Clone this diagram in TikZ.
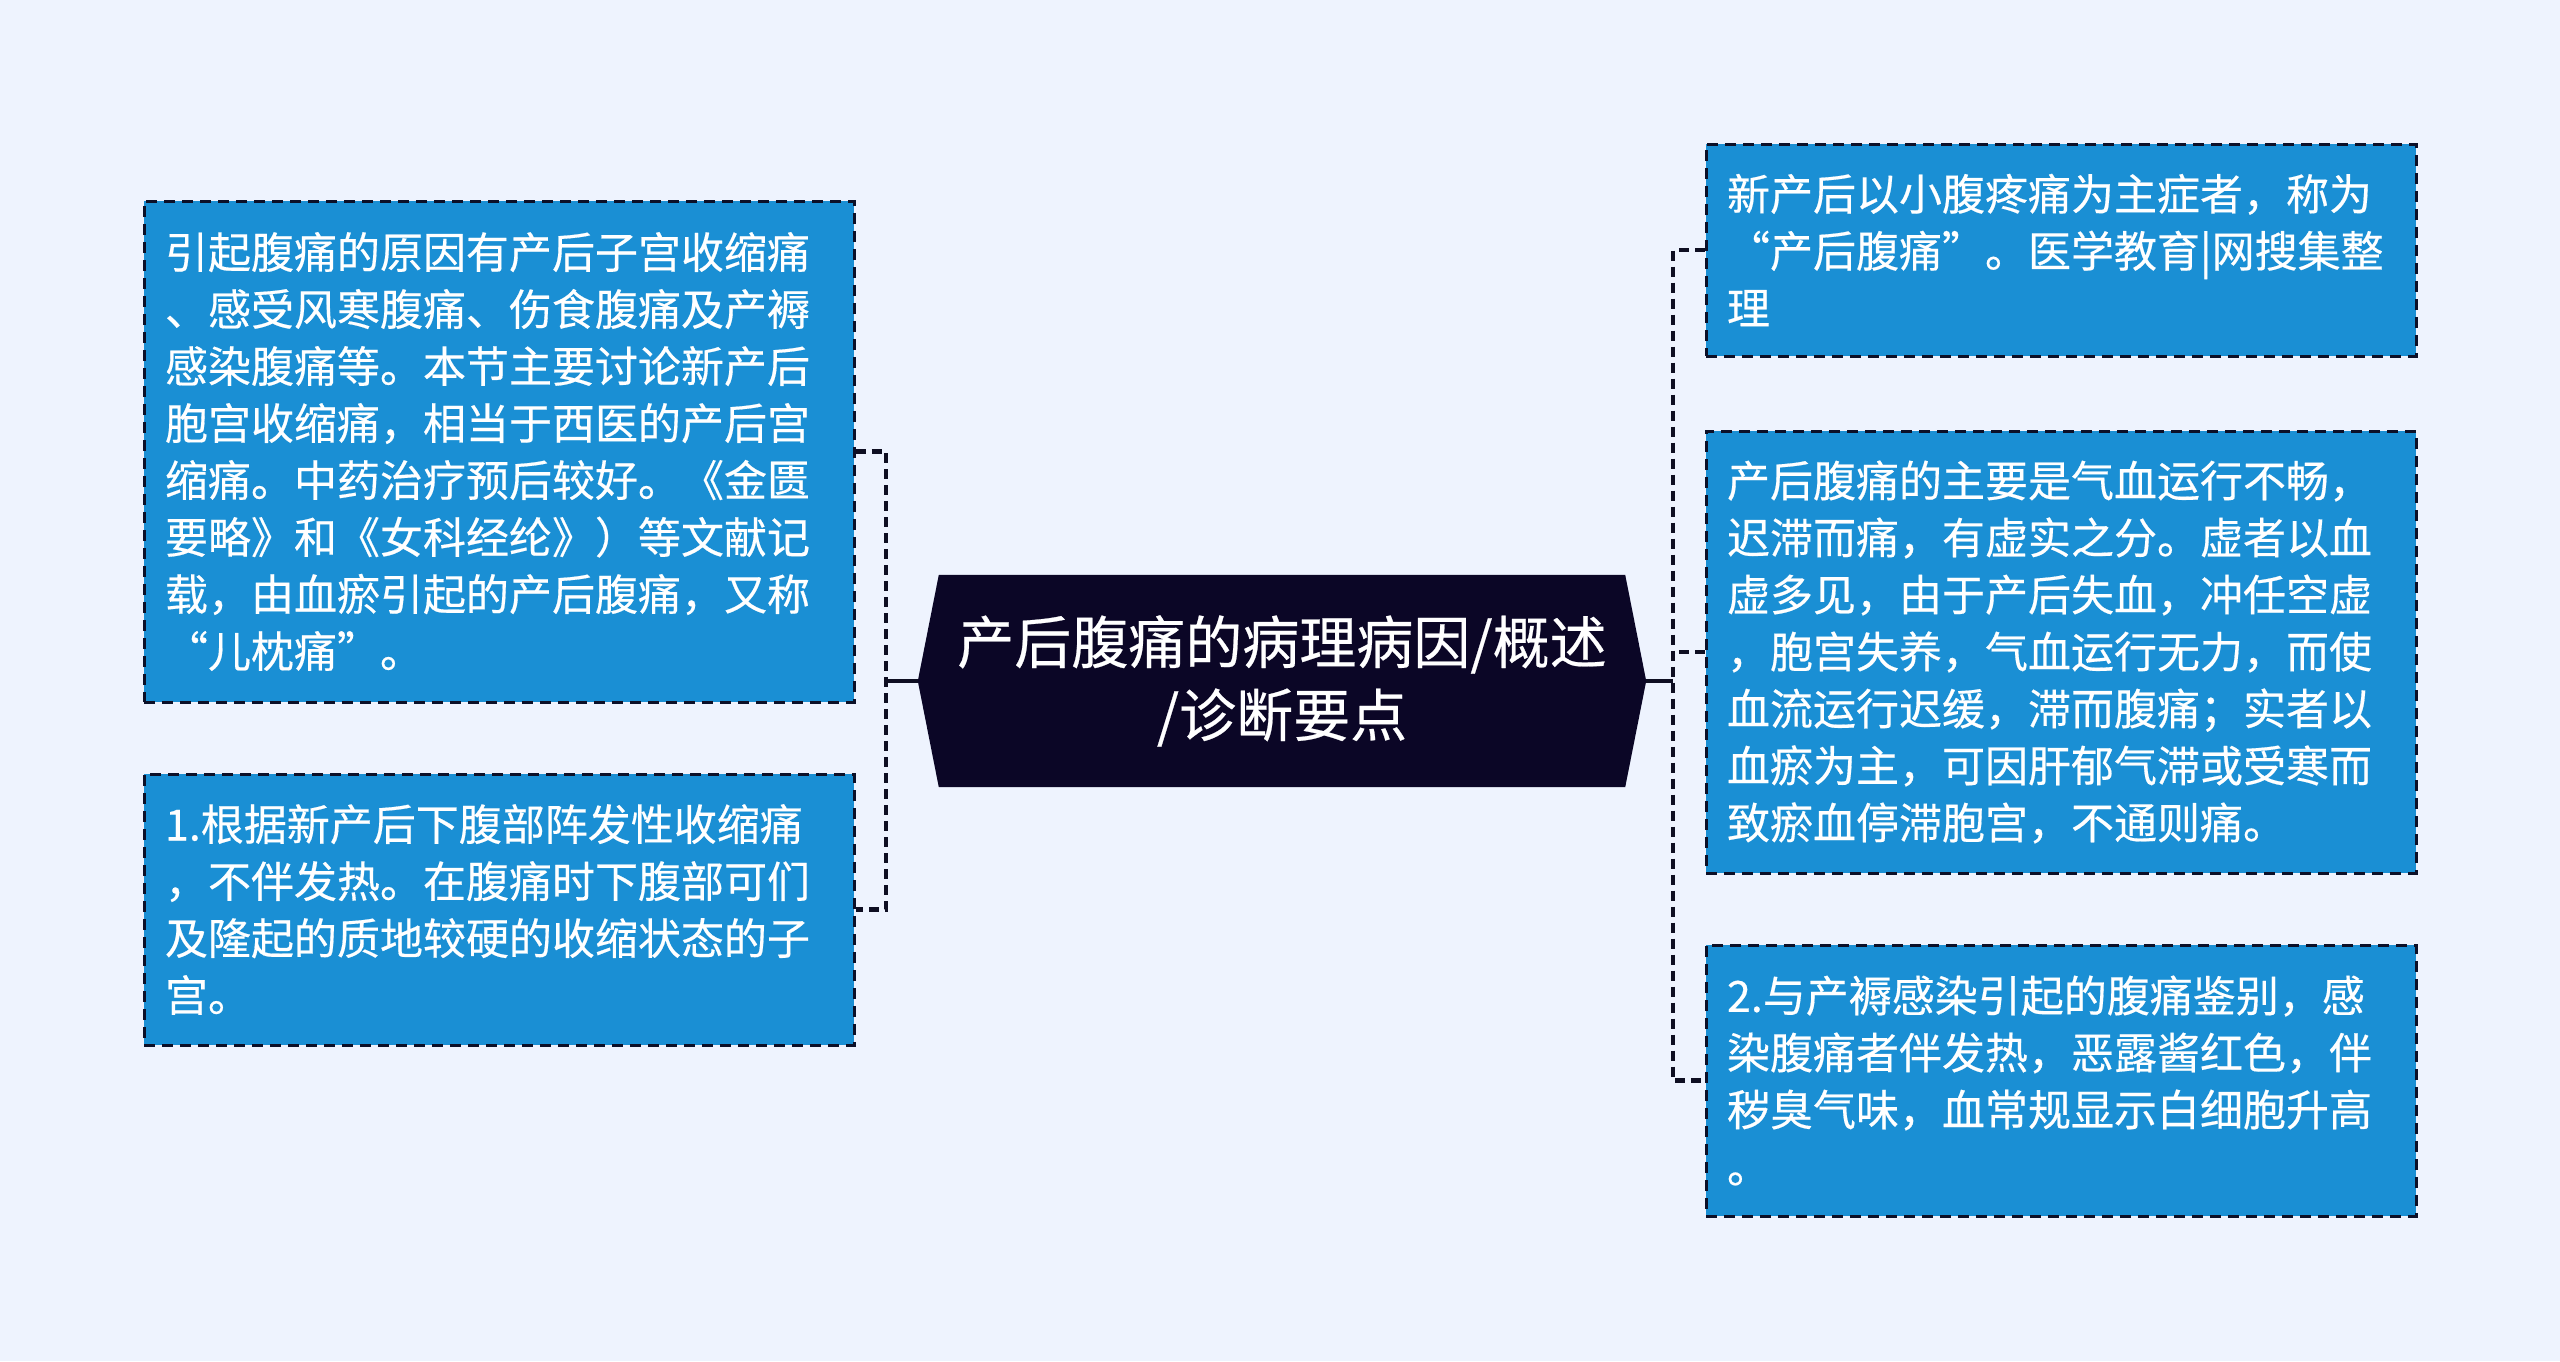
\documentclass[tikz,border=0pt]{standalone}
\usepackage{fontspec}
\newfontfamily\cjk[FakeBold=0.4]{Noto Sans CJK SC}
\usetikzlibrary{backgrounds}
\definecolor{bgcol}{RGB}{238,243,254}
\definecolor{boxfill}{RGB}{26,143,212}
\definecolor{bordercol}{RGB}{12,16,40}
\definecolor{hexfill}{RGB}{11,6,38}
\definecolor{linecol}{RGB}{14,14,34}
\begin{document}
\begin{tikzpicture}[x=1pt,y=-1pt,
  leafbox/.style={draw=bordercol, line width=3pt, dash pattern=on 11pt off 7pt,
    fill=boxfill, text=white, font=\cjk\fontsize{43}{57}\selectfont,
    align=left, text width=668pt, inner xsep=21pt, inner ysep=0pt,
    minimum width=710pt, anchor=center},
  hexnode/.style={text=white, align=center, font=\cjk\fontsize{57}{73}\selectfont,
    minimum width=686pt, minimum height=212pt, inner sep=0pt, anchor=center},
  conn/.style={draw=linecol, line width=4.5pt, dash pattern=on 10pt off 6pt},
  rootconn/.style={draw=linecol, line width=4pt}]
\useasboundingbox (0,0) rectangle (2560,1361);

\node[leafbox, minimum height=501pt] (L1) at (499,451.5) {引起腹痛的原因有产后子宫收缩痛\\、感受风寒腹痛、伤食腹痛及产褥\\感染腹痛等。本节主要讨论新产后\\胞宫收缩痛，相当于西医的产后宫\\缩痛。中药治疗预后较好。《金匮\\要略》和《女科经纶》）等文献记\\载，由血瘀引起的产后腹痛，又称\\“儿枕痛”。};
\node[leafbox, minimum height=271pt] (L2) at (499,909.5) {1.根据新产后下腹部阵发性收缩痛\\，不伴发热。在腹痛时下腹部可们\\及隆起的质地较硬的收缩状态的子\\宫。};

\node[leafbox, minimum height=212pt] (R1) at (2061,250) {新产后以小腹疼痛为主症者，称为\\“产后腹痛”。医学教育|网搜集整\\理};
\node[leafbox, minimum height=442pt] (R2) at (2061,652) {产后腹痛的主要是气血运行不畅，\\迟滞而痛，有虚实之分。虚者以血\\虚多见，由于产后失血，冲任空虚\\，胞宫失养，气血运行无力，而使\\血流运行迟缓，滞而腹痛；实者以\\血瘀为主，可因肝郁气滞或受寒而\\致瘀血停滞胞宫，不通则痛。};
\node[leafbox, minimum height=271pt] (R3) at (2061,1080.5) {2.与产褥感染引起的腹痛鉴别，感\\染腹痛者伴发热，恶露酱红色，伴\\秽臭气味，血常规显示白细胞升高\\。};

\node[hexnode] (root) at (1282,681) {产后腹痛的病理病因/概述\\/诊断要点};
\coordinate (rootL) at ([xshift=-21pt]root.west);
\coordinate (rootR) at ([xshift=21pt]root.east);
\coordinate (lj) at (886,681);
\coordinate (rj) at (1673,681);

\begin{scope}[on background layer]
\fill[bgcol] (0,0) rectangle (2560,1361);
\fill[hexfill] (root.north west) -- (root.north east) -- (rootR) -- (root.south east) -- (root.south west) -- (rootL) -- cycle;
\end{scope}

\draw[rootconn] (rootL) -- (lj);
\draw[conn] (L1.east) -| (lj) |- (L2.east);
\draw[rootconn] (rootR) -- (rj);
\draw[conn] (R1.west) -| (rj) |- (R3.west);
\draw[conn] (R2.west) -- (R2.west -| rj);
\end{tikzpicture}
\end{document}
